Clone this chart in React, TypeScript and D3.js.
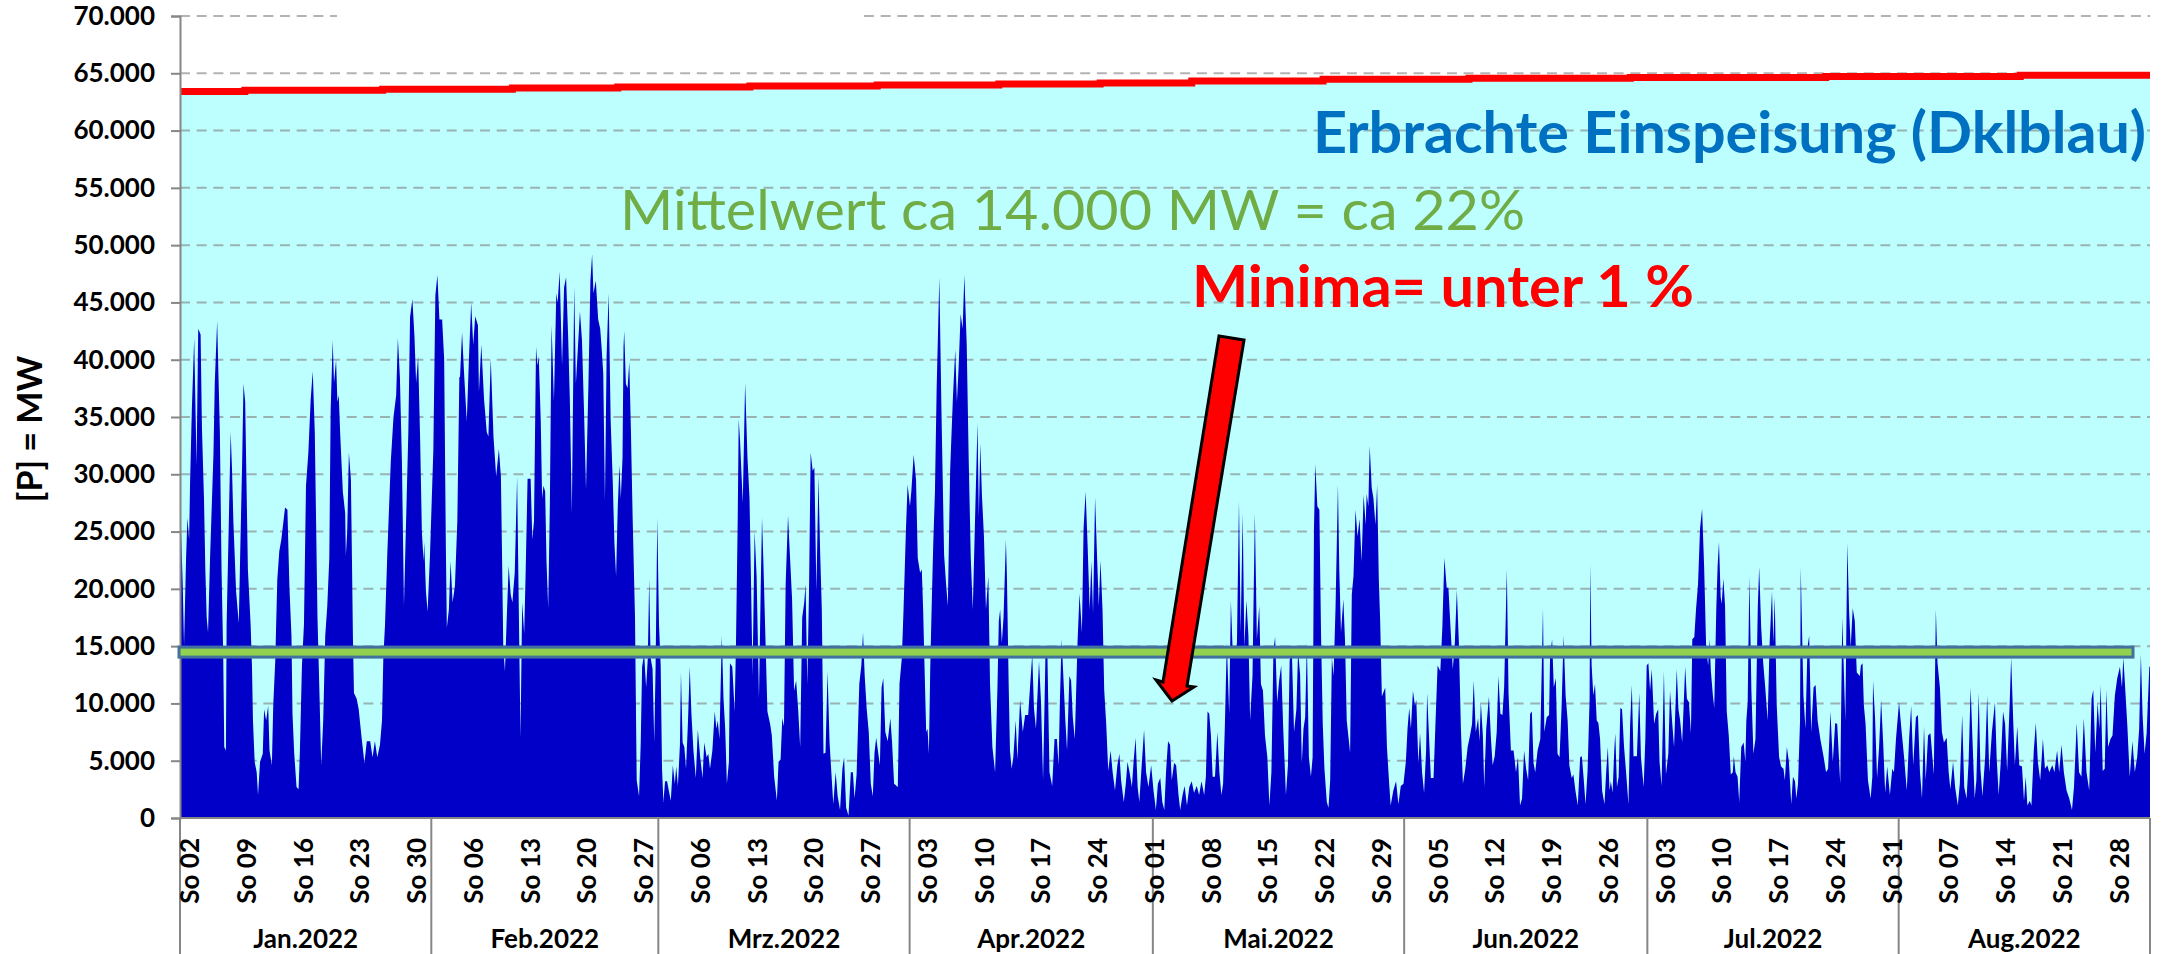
import { useEffect, useRef } from 'react';
import * as d3 from 'd3';

const WIDTH = 2165;
const HEIGHT = 954;
const FONT = 'Lato, "Noto Sans", sans-serif';

const COLORS = {
    sky: '#BDFFFF',
    feedIn: '#0000C8',
    axis: '#868686',
    grid: '#808080',
    meanFill: '#92D050',
    meanStroke: '#41719C',
    meanText: '#70AD47',
    title: '#0070C0',
    red: '#FF0000',
};

const MONTH_LABELS = ['Jan.2022', 'Feb.2022', 'Mrz.2022', 'Apr.2022', 'Mai.2022', 'Jun.2022', 'Jul.2022', 'Aug.2022'];
const Y_TICKS = [0, 5000, 10000, 15000, 20000, 25000, 30000, 35000, 40000, 45000, 50000, 55000, 60000, 65000, 70000];
const MEAN_MW = 14480;

// installierte Leistung: [Tag im Jahr, MW], stufenweise
const capacity = [
    [0, 63420], [8, 63510], [25, 63600], [41, 63710], [54, 63800], [70.3, 63890], [86, 63970], [101, 64060],
    [113.5, 64150], [124.8, 64320], [141, 64470], [159, 64560], [178.9, 64640], [203, 64730], [227, 64820], [243, 64820],
];

// Einspeisung: [Stunde ab Abschnittsbeginn, MW]
const seg1 = [
    [0, 25100], [3, 25100], [8, 20400], [12, 15100], [18, 22700], [22, 26200], [27, 24300], [30, 29500], [35, 35600], [42, 41900],
    [49, 30800], [54, 42700], [61, 42200], [65, 34000], [71, 27900], [75, 21700], [79, 17500], [83, 16200], [89, 22700], [99, 31700],
    [103, 38000], [110, 43400], [114, 38500], [118, 33700], [123, 21700], [128, 14000], [131, 6200], [136, 5900], [138, 16900], [143, 23700],
    [150, 33700], [154, 30400], [158, 25900], [166, 19800], [174, 17000], [178, 22700], [184, 31100], [188, 37900], [193, 36300], [201, 21700],
    [209, 16900], [213, 13300], [216, 8500], [221, 4900], [227, 4000], [231, 2000], [237, 4900], [245, 5600], [249, 9500], [255, 8500],
    [261, 9800], [265, 5900], [272, 4600], [276, 9800], [282, 13700], [288, 20800], [294, 23300], [300, 24300], [311, 27100], [318, 26900],
    [324, 20100], [330, 15900], [333, 9100], [338, 5700], [345, 2700], [351, 2500], [355, 5900], [361, 13300], [367, 16900], [373, 29000],
    [380, 31900], [387, 36600], [393, 39000], [399, 33700], [403, 25600], [407, 17500], [413, 10700], [418, 4600], [424, 8500], [430, 15900],
    [436, 18500], [442, 22700], [446, 35600], [452, 41700], [456, 38000], [462, 40000], [466, 36300], [470, 36900], [474, 33700], [482, 28500],
    [489, 26600], [491, 22900], [495, 25000], [500, 31900], [506, 29500], [509, 22700], [512, 15600], [515, 10900], [523, 10400], [529, 9500],
    [538, 6900], [546, 4800], [553, 6700], [563, 6700], [570, 5300], [577, 6700], [584, 5300], [592, 6400], [598, 8500], [602, 14000],
    [607, 16900], [614, 23300], [624, 31100], [632, 35000], [640, 36900], [645, 41900], [651, 38500], [657, 31100], [663, 18500], [671, 27900],
    [676, 33700], [681, 43700], [688, 45300], [694, 42100], [699, 38000], [705, 40300], [711, 32900], [716, 25000], [721, 22400], [723, 24100],
    [728, 19800], [733, 18000], [740, 22900], [750, 32100], [756, 45600], [762, 47400], [768, 43500], [776, 43500], [782, 40100], [787, 23700],
    [790, 16600], [796, 18200], [801, 22400], [807, 18800], [814, 20300], [821, 25900], [827, 38500],
];

const seg2 = [
    [0, 38500], [6, 42400], [12, 38800], [20, 34600], [27, 40600], [33, 45000], [39, 41300], [45, 43800], [53, 43000], [56, 37200],
    [63, 41300], [71, 36600], [79, 33700], [84, 33300], [91, 40100], [99, 33300], [107, 29800], [115, 32200], [121, 29800], [124, 23700],
    [128, 14900], [133, 12800], [138, 17200], [144, 22000], [150, 19500], [155, 18800], [162, 21400], [169, 29800], [174, 18200], [179, 7000],
    [184, 18800], [190, 16100], [194, 21100], [200, 29600], [209, 29600], [214, 24300], [219, 25900], [225, 41100], [229, 39500], [233, 40300],
    [239, 34600], [243, 27900], [247, 29000], [252, 28500], [256, 22400], [261, 18300], [266, 27500], [271, 43000], [278, 36400], [285, 45800],
    [289, 45000], [295, 47700], [302, 39500], [308, 46300], [314, 47200], [320, 42100], [325, 36600], [331, 26600], [338, 46400], [343, 37900],
    [350, 41600], [355, 44200], [361, 41700], [367, 35600], [373, 28700], [380, 37700], [386, 46900], [391, 49200], [395, 45800], [402, 46900],
    [409, 43500], [415, 42700], [419, 41100], [424, 38800], [429, 27700], [434, 40400], [440, 45800], [446, 34600], [452, 29500], [457, 24000],
    [462, 21100], [467, 27200], [472, 30800], [476, 27900], [481, 31400], [484, 41100], [486, 42500], [491, 37900], [496, 37500], [501, 39800],
    [506, 33700], [511, 26200], [518, 17500], [523, 3300], [530, 1900], [535, 6600], [539, 13200], [545, 14300], [551, 11400], [556, 14000],
    [560, 20900], [564, 14000], [570, 13000], [575, 6600], [579, 13300], [584, 26200], [589, 16900], [594, 13300], [598, 4300], [602, 1400],
    [607, 3200], [613, 3200], [618, 2400], [624, 1500], [630, 4600], [636, 3000], [640, 4500], [645, 2800], [651, 6400], [654, 12700],
    [659, 6600], [664, 6200], [669, 4300], [675, 8500], [680, 13200], [685, 9100], [691, 5900], [698, 3500], [704, 7700], [711, 5300],
    [718, 3500], [723, 6600], [730, 5300], [735, 5600], [740, 4300], [747, 5900], [754, 9300], [759, 7800], [763, 8500], [768, 6900],
    [775, 15900], [780, 10400], [785, 7800], [790, 3000], [796, 4900], [799, 13500], [806, 13200], [813, 9300], [817, 15400], [822, 25900],
    [825, 34800],
];

const seg3 = [
    [0, 32900], [8, 27500], [15, 38000], [22, 31400], [28, 27900], [32, 21400], [37, 12400], [43, 25000], [49, 21100], [56, 10400],
    [61, 19800], [65, 26200], [69, 22400], [74, 16900], [81, 9300], [89, 8200], [94, 7200], [101, 3600], [109, 1500], [114, 4900],
    [120, 5100], [125, 8700], [130, 8000], [135, 20400], [142, 26400], [148, 22700], [154, 19100], [160, 11100], [166, 12000], [172, 9500],
    [178, 6200], [184, 17500], [190, 18800], [194, 20400], [199, 11600], [204, 19500], [209, 31900], [215, 30300], [220, 30600], [226, 19800],
    [232, 29800], [237, 23300], [242, 18200], [247, 5600], [253, 5700], [259, 12800], [265, 6600], [270, 4100], [276, 1200], [283, 4000],
    [289, 1900], [296, 700], [303, 4300], [308, 5300], [314, 900], [321, 200], [328, 4000], [334, 4000], [339, 1700], [345, 3800],
    [353, 11700], [359, 13300], [364, 16200], [369, 12400], [375, 9500], [381, 7500], [387, 3000], [393, 1900], [398, 5700], [403, 7000],
    [408, 5900], [414, 4600], [419, 11400], [424, 12200], [430, 7500], [437, 6700], [445, 8700], [450, 6600], [456, 3000], [467, 2700],
    [472, 11700], [479, 14000], [484, 18200], [491, 25100], [496, 29100], [503, 27200], [507, 28500], [514, 31700], [521, 29500], [526, 22700],
    [533, 21400], [538, 21700], [542, 18200], [546, 13300], [551, 7500], [555, 7800], [559, 5600], [563, 13000], [567, 18200], [572, 24000],
    [577, 28500], [582, 37500], [590, 47200], [596, 35900], [604, 23000], [610, 20400], [615, 18500], [622, 30400], [630, 36600], [637, 40900],
    [642, 36300], [647, 39300], [653, 44000], [659, 42700], [664, 47400], [671, 41300], [677, 31100], [683, 22700], [689, 18200], [695, 25300],
    [703, 34500], [707, 26200], [711, 32700], [716, 28200], [722, 24600], [728, 18200], [735, 21100], [740, 11700], [747, 6200], [755, 4000],
    [762, 11400], [766, 17200], [770, 18200], [775, 15300], [780, 17500], [787, 24300], [790, 21100], [795, 12000], [799, 5900], [804, 4300],
    [809, 5300], [816, 8500], [821, 5100],
];

const seg4 = [
    [0, 10300], [8, 7500], [15, 9000], [24, 9000], [30, 11700], [36, 14300], [41, 9600], [47, 7800], [56, 13700], [62, 10100],
    [68, 3300], [75, 14000], [81, 14000], [87, 4000], [95, 2800], [102, 6900], [109, 6900], [114, 4600], [118, 10400], [123, 15600],
    [128, 12400], [134, 8500], [139, 5900], [146, 12400], [151, 12000], [156, 8800], [162, 6900], [170, 15300], [176, 19600], [183, 16200],
    [188, 25300], [194, 28500], [200, 23700], [206, 18200], [211, 22400], [216, 17900], [222, 28000], [228, 22700], [233, 18500], [238, 22500],
    [244, 18200], [249, 11200], [255, 8200], [261, 4100], [268, 5900], [274, 4000], [281, 2400], [288, 4600], [294, 5600], [299, 3300],
    [307, 1400], [313, 3000], [318, 4900], [324, 4000], [331, 2700], [336, 4900], [342, 7000], [348, 2700], [353, 1400], [360, 4600],
    [367, 7700], [373, 4000], [380, 2700], [388, 4600], [395, 2400], [402, 700], [408, 3000], [415, 3500], [421, 1400], [427, 700],
    [432, 4000], [438, 6700], [444, 6400], [449, 3300], [456, 4800], [462, 4600], [469, 2000], [474, 700], [481, 2000], [487, 2800],
    [494, 1100], [501, 2700], [508, 3200], [515, 2200], [523, 2800], [530, 2000], [537, 3200], [545, 2000], [550, 3600], [555, 9300],
    [560, 9100], [565, 7200], [570, 3600], [577, 3600], [584, 7500], [590, 4000], [596, 2000], [601, 3000], [606, 7800], [612, 15300],
    [619, 9100], [624, 19000], [630, 14000], [637, 14000], [642, 15300], [648, 27700], [653, 16200], [659, 26600], [664, 14900], [670, 19000],
    [676, 15900], [681, 8500], [688, 12400], [695, 26600], [701, 15600], [708, 18500], [713, 11700], [719, 11100], [725, 7200], [732, 5300],
    [738, 1100], [744, 4000], [750, 14600], [755, 15800], [761, 10100], [767, 12000], [773, 13300], [779, 7800], [787, 2000], [793, 4600],
    [798, 13700], [804, 15100], [811, 7500], [818, 9500], [823, 14600],
];

const seg5 = [
    [0, 12500], [5, 4800], [10, 7800], [15, 8800], [20, 15300], [26, 5300], [32, 3600], [37, 5300], [41, 25300], [45, 30900],
    [51, 27200], [57, 26900], [62, 15900], [67, 8200], [72, 4300], [79, 1400], [84, 900], [89, 3300], [94, 14000], [99, 12400],
    [105, 18500], [112, 29100], [116, 21600], [121, 16200], [128, 19100], [133, 15400], [138, 8500], [148, 5700], [153, 19500], [158, 21100],
    [164, 26900], [170, 24600], [176, 26100], [182, 22400], [188, 28200], [194, 25600], [197, 28300], [202, 27200], [206, 32500], [212, 28800],
    [217, 27900], [223, 25600], [228, 29100], [233, 20800], [237, 17200], [242, 10600], [252, 11400], [257, 6200], [263, 3300], [268, 1100],
    [276, 2400], [284, 3200], [291, 1200], [298, 2800], [306, 3000], [313, 4900], [318, 7800], [323, 9600], [328, 7800], [334, 11100],
    [340, 9800], [344, 10300], [350, 4800], [355, 7400], [361, 4000], [367, 2200], [373, 5900], [376, 10900], [381, 7500], [387, 3500],
    [395, 3500], [401, 8500], [407, 13300], [415, 12800], [421, 16600], [427, 22700], [434, 20100], [439, 20100], [446, 16200], [452, 13000],
    [458, 15300], [464, 19900], [470, 15300], [476, 7800], [482, 3000], [489, 4300], [496, 6200], [503, 7200], [509, 8200], [514, 12000],
    [520, 7500], [527, 8700], [531, 6700], [535, 10100], [541, 7200], [545, 2700], [551, 7800], [559, 10600], [565, 6900], [570, 4600],
    [576, 5400], [582, 7500], [587, 12400], [593, 9100], [599, 9000], [604, 11400], [612, 21700], [617, 10900], [624, 5900], [632, 5900],
    [639, 4000], [645, 5300], [651, 1100], [657, 1700], [663, 5900], [669, 4300], [675, 3300], [681, 9100], [686, 9300], [691, 4800],
    [696, 4000], [703, 5900], [711, 6900], [719, 18300], [723, 7500], [730, 8800], [737, 9000], [740, 14100], [746, 15600], [751, 11400],
    [757, 12200], [762, 5600], [768, 5300], [774, 9600], [780, 15900], [786, 10700], [792, 8500], [797, 4600], [804, 3500], [809, 3800],
    [815, 2400], [822, 1100],
];

const seg6 = [
    [0, 5300], [5, 5400], [10, 3600], [16, 1200], [22, 4100], [28, 10400], [30, 22200], [34, 13300], [39, 10700], [44, 11700],
    [49, 8500], [54, 8300], [59, 6900], [65, 2400], [72, 1200], [77, 4000], [82, 6200], [87, 2400], [91, 3200], [96, 2200],
    [101, 5900], [104, 7400], [109, 2700], [114, 3600], [119, 9600], [124, 9500], [130, 6200], [136, 4000], [143, 1200], [148, 8200],
    [153, 11600], [158, 5400], [168, 5400], [175, 10900], [180, 5300], [188, 2700], [193, 6900], [197, 13300], [202, 13500], [207, 11100],
    [212, 13000], [219, 8200], [225, 9100], [231, 9500], [235, 4900], [241, 2800], [248, 12800], [254, 3800], [261, 5600], [266, 11100],
    [272, 8500], [278, 6200], [286, 13000], [291, 9500], [296, 8500], [302, 6600], [311, 13200], [316, 10400], [322, 10100], [328, 7400],
    [332, 15600], [338, 15800], [343, 18200], [349, 20400], [355, 25300], [361, 27000], [367, 22000], [373, 14900], [379, 13300], [383, 15600],
    [387, 12800], [393, 10700], [397, 9600], [403, 18200], [407, 22000], [411, 24100], [416, 19300], [419, 18700], [424, 20900], [429, 18500],
    [434, 9300], [440, 7200], [446, 3800], [452, 4000], [455, 5400], [460, 4000], [466, 3600], [471, 1400], [477, 6200], [484, 6600],
    [489, 4900], [492, 8500], [496, 10100], [501, 21100], [507, 11100], [513, 5600], [519, 6900], [526, 18500], [530, 21900], [536, 16600],
    [542, 13500], [548, 11400], [555, 8500], [561, 15300], [568, 19800], [572, 15300], [576, 19300], [582, 9800], [589, 5300], [595, 4500],
    [602, 4300], [606, 3300], [612, 6200], [618, 4900], [625, 1200], [630, 3600], [636, 3200], [640, 1700], [645, 3000], [651, 8500],
    [653, 21900], [661, 10700], [667, 7800], [673, 14900], [678, 15900], [684, 7500], [691, 11400], [697, 11600], [703, 8500], [711, 6900],
    [721, 5300], [728, 4000], [734, 4300], [741, 9300], [748, 4900], [755, 8300], [761, 8200], [765, 5900], [770, 3000], [776, 17500],
    [785, 8500], [791, 24000], [796, 18200], [801, 14900], [807, 18300], [813, 17200], [819, 12700],
];

const seg7 = [
    [0, 12400], [3, 13300], [8, 13500], [12, 9800], [17, 8200], [24, 3300], [32, 1700], [37, 3600], [39, 12000], [45, 8800],
    [51, 3500], [57, 6200], [63, 10300], [69, 6600], [75, 2200], [81, 4500], [89, 2000], [96, 4300], [101, 4000], [107, 6900],
    [116, 10100], [123, 7800], [131, 5300], [139, 2400], [146, 7000], [152, 9800], [158, 4600], [166, 8800], [172, 9000], [178, 4000],
    [184, 1700], [190, 8000], [195, 3300], [202, 7200], [209, 7400], [219, 3800], [225, 18200], [230, 13500], [237, 11400], [243, 7500],
    [249, 6600], [257, 7000], [263, 4000], [268, 2500], [276, 4900], [282, 2700], [290, 1100], [296, 3000], [303, 9000], [309, 2700],
    [316, 1700], [322, 4900], [328, 11400], [333, 7200], [340, 1700], [345, 3300], [352, 10900], [357, 4300], [363, 1900], [371, 5300],
    [377, 10700], [383, 4000], [391, 7500], [400, 10100], [405, 5300], [411, 2000], [418, 5300], [424, 9300], [430, 8200], [436, 4100],
    [443, 9500], [448, 14000], [454, 8500], [459, 4600], [466, 8000], [472, 4600], [480, 4500], [486, 1500], [491, 3600], [496, 1100],
    [503, 1500], [508, 1100], [515, 5900], [521, 8300], [527, 4900], [534, 3300], [542, 6900], [548, 4300], [555, 4600], [561, 4000],
    [565, 4300], [570, 4600], [576, 4000], [584, 5900], [590, 4000], [597, 6400], [604, 4000], [612, 2400], [620, 1700], [628, 700],
    [634, 2700], [642, 8300], [649, 4000], [656, 3600], [663, 8700], [671, 4000], [679, 2400], [686, 10400], [691, 11200], [697, 5700],
    [704, 10100], [709, 7800], [713, 11600], [719, 4100], [725, 4300], [730, 11200], [735, 6200], [742, 6900], [748, 7200], [755, 10700],
    [762, 12200], [770, 13200], [776, 11400], [780, 14000], [785, 11600], [792, 8000], [799, 3600], [807, 6700], [814, 4000], [821, 5300],
    [827, 7800], [832, 14300], [837, 9000], [843, 5600], [849, 7400], [857, 13200], [859, 13200],
];

const segments = [seg1, seg2, seg3, seg4, seg5, seg6, seg7];
const segmentStartHours = [0, 829, 1658, 2487, 3316, 4145, 4973];

const App = () => {
    const svgRef = useRef<SVGSVGElement | null>(null);

    useEffect(() => {
        if (!svgRef.current) return;

        const svg = d3.select(svgRef.current);
        svg.selectAll('*').remove();

        const start = new Date(Date.UTC(2022, 0, 1));
        const end = new Date(Date.UTC(2022, 8, 1));
        const x = d3.scaleUtc().domain([start, end]).range([180, 2150]);
        const y = d3.scaleLinear().domain([0, 70000]).range([818, 16]);

        const feedIn = segments.flatMap((seg, i) =>
            seg.map(([h, mw]) => ({ date: d3.utcHour.offset(start, segmentStartHours[i] + h), mw }))
        );
        const capacityPts = capacity.map(([day, mw]) => ({ date: new Date(+start + day * 864e5), mw }));

        // Hintergrund bis zur installierten Leistung
        svg.append('path')
            .datum(capacityPts)
            .attr('fill', COLORS.sky)
            .attr(
                'd',
                d3
                    .area<any>()
                    .x((d) => x(d.date))
                    .y0(y(0))
                    .y1((d) => y(d.mw))
                    .curve(d3.curveStepAfter)
            );

        // Gitterlinien
        const grid = svg.append('g').attr('stroke', COLORS.grid).attr('stroke-opacity', 0.6).attr('stroke-width', 2).attr('stroke-dasharray', '10 6.67');
        Y_TICKS.filter((t) => t > 0 && t < 70000).forEach((t) => {
            grid.append('line').attr('x1', x(start)).attr('x2', x(end)).attr('y1', y(t)).attr('y2', y(t));
        });
        // die 70.000er Linie ist im Original unterbrochen
        [[180, 337], [864, 2150]].forEach(([a, b]) => {
            grid.append('line').attr('x1', a).attr('x2', b).attr('y1', y(70000)).attr('y2', y(70000));
        });

        svg.append('path')
            .datum(feedIn)
            .attr('fill', COLORS.feedIn)
            .attr(
                'd',
                d3
                    .area<any>()
                    .x((d) => x(d.date))
                    .y0(y(0))
                    .y1((d) => y(d.mw))
            );

        svg.append('path')
            .datum(capacityPts)
            .attr('fill', 'none')
            .attr('stroke', COLORS.red)
            .attr('stroke-width', 7)
            .attr(
                'd',
                d3
                    .line<any>()
                    .x((d) => x(d.date))
                    .y((d) => y(d.mw))
                    .curve(d3.curveStepAfter)
            );

        // y-Achse
        const de = d3.formatLocale({ decimal: ',', thousands: '.', grouping: [3], currency: ['', ' €'] });
        const yAxis = svg
            .append('g')
            .attr('transform', 'translate(180,0)')
            .call(d3.axisLeft(y).tickValues(Y_TICKS).tickFormat(de.format(',d') as any).tickSize(9).tickPadding(16));
        yAxis.select('.domain').attr('stroke', COLORS.axis).attr('stroke-width', 2);
        yAxis.selectAll('.tick line').attr('stroke', COLORS.axis).attr('stroke-width', 2);
        yAxis.selectAll('.tick text').attr('fill', '#000').style('font', `bold 26px ${FONT}`);

        svg.append('text')
            .attr('transform', 'translate(42,429) rotate(-90)')
            .attr('text-anchor', 'middle')
            .style('font', `bold 34px ${FONT}`)
            .text('[P] = MW');

        // x-Achse
        svg.append('line').attr('x1', 180).attr('x2', 2150).attr('y1', 818).attr('y2', 818).attr('stroke', COLORS.axis).attr('stroke-width', 2);

        const months = d3.utcMonth.range(start, end);
        [...months, end].forEach((m) => {
            svg.append('line').attr('x1', x(m)).attr('x2', x(m)).attr('y1', 818).attr('y2', HEIGHT).attr('stroke', COLORS.axis).attr('stroke-width', 2);
        });

        months.forEach((m, i) => {
            svg.append('text')
                .attr('x', (x(m) + x(d3.utcMonth.offset(m, 1))) / 2)
                .attr('y', 948)
                .attr('text-anchor', 'middle')
                .style('font', `bold 26px ${FONT}`)
                .text(MONTH_LABELS[i]);
        });

        d3.utcSunday.range(start, end).forEach((d) => {
            svg.append('text')
                .attr('transform', `translate(${x(d) + 1},838) rotate(-90)`)
                .attr('text-anchor', 'end')
                .attr('dominant-baseline', 'central')
                .style('font', `bold 26px ${FONT}`)
                .text(`So ${d3.utcFormat('%d')(d)}`);
        });

        // Mittelwert-Balken
        svg.append('rect')
            .attr('x', 179)
            .attr('y', y(MEAN_MW) - 5)
            .attr('width', 1954)
            .attr('height', 10)
            .attr('fill', COLORS.meanFill)
            .attr('stroke', COLORS.meanStroke)
            .attr('stroke-width', 3);

        // Pfeil auf die Minima
        svg.append('polygon')
            .attr('points', '1219,336 1244,340 1187,686 1194,687 1172,701 1156,680 1163,682')
            .attr('fill', COLORS.red)
            .attr('stroke', '#000')
            .attr('stroke-width', 3);

        const note = (txt: string, left: number, base: number, len: number, color: string, weight: string) => {
            svg.append('text')
                .attr('x', left)
                .attr('y', base)
                .attr('textLength', len)
                .attr('lengthAdjust', 'spacingAndGlyphs')
                .attr('fill', color)
                .style('font', `${weight} 57px ${FONT}`)
                .text(txt);
        };
        note('Erbrachte Einspeisung (Dklblau)', 1313, 153, 833, COLORS.title, 'bold');
        note('Mittelwert ca 14.000 MW = ca 22%', 620, 230, 905, COLORS.meanText, 'normal');
        note('Minima= unter 1 %', 1192, 307, 502, COLORS.red, 'bold');
    }, []);

    return <svg ref={svgRef} width={WIDTH} height={HEIGHT} style={{ position: 'absolute', left: 0, top: 0 }}></svg>;
};

export default App;
